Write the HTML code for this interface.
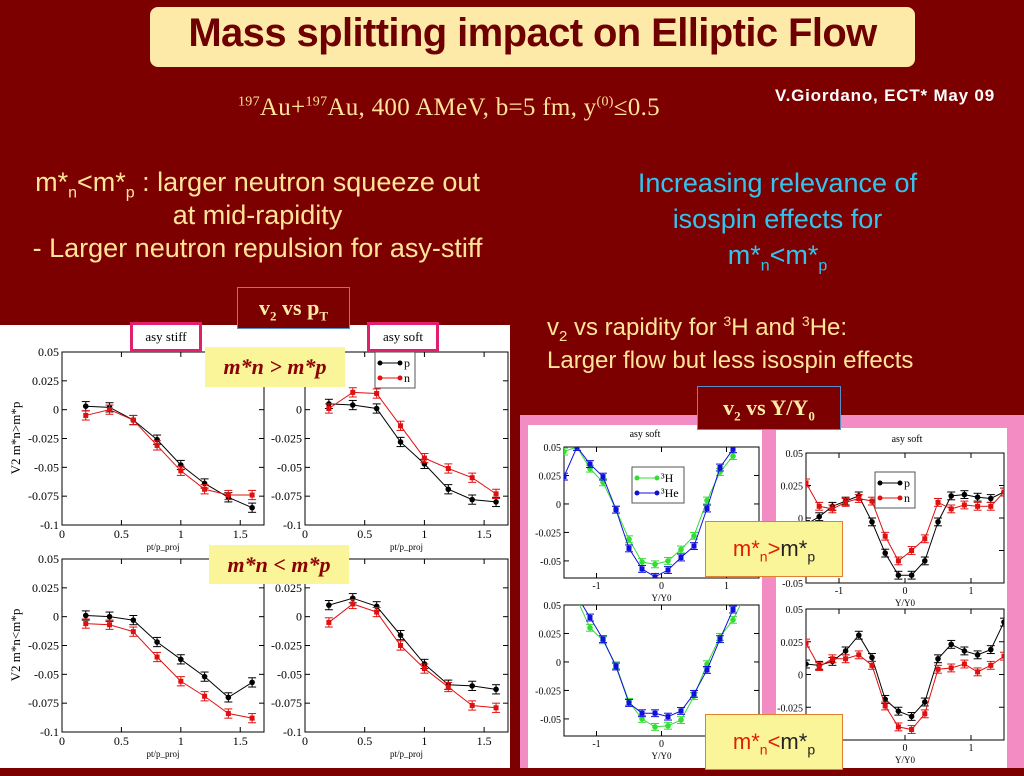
<!DOCTYPE html>
<html><head><meta charset="utf-8"><style>
html,body{margin:0;padding:0}
body{width:1024px;height:768px;background:#7d0000;position:relative;overflow:hidden;font-family:"Liberation Sans",sans-serif}
.abs{position:absolute}
.ylw{color:#ffe49a}
</style></head><body>
<div class="abs" style="left:150px;top:7px;width:765px;height:60px;background:#fde9a8;border-radius:8px;"></div>
<div class="abs" style="left:150px;top:11px;width:765px;text-align:center;font-weight:bold;font-size:40px;color:#6e0000;letter-spacing:-0.6px;">Mass splitting impact on Elliptic Flow</div>
<div class="abs" style="left:775px;top:86px;color:#fff;font-weight:bold;font-size:17px;letter-spacing:0.8px;">V.Giordano, ECT* May 09</div>
<div class="abs ylw" style="left:238px;top:94px;font-family:'Liberation Serif',serif;font-size:25px;letter-spacing:0.3px;"><sup style="font-size:14px">197</sup>Au+<sup style="font-size:14px">197</sup>Au, 400 AMeV, b=5 fm, y<sup style="font-size:14px">(0)</sup>≤0.5</div>
<div class="abs ylw" style="left:0px;top:166px;width:515px;text-align:center;font-size:27px;line-height:33px;">m*<sub style="font-size:16px;line-height:0">n</sub>&lt;m*<sub style="font-size:16px;line-height:0">p</sub> : larger neutron squeeze out<br>at mid-rapidity<br>- Larger neutron repulsion for asy-stiff</div>
<div class="abs" style="left:580px;top:165px;width:395px;text-align:center;font-size:27px;line-height:36px;color:#33c4ee;">Increasing relevance of<br>isospin effects for<br>m*<sub style="font-size:16px;line-height:0">n</sub>&lt;m*<sub style="font-size:16px;line-height:0">p</sub></div>
<div class="abs ylw" style="left:547px;top:311px;font-size:24px;line-height:33px;">v<sub style="font-size:15px;line-height:0">2</sub> vs rapidity for <sup style="font-size:14px;line-height:0">3</sup>H and <sup style="font-size:14px;line-height:0">3</sup>He:<br>Larger flow but less isospin effects</div>
<svg class="abs" style="left:0;top:0" width="1024" height="768" font-family="Liberation Serif, serif">
<rect x="0" y="325" width="510" height="443" fill="#fff"/>
<rect x="520" y="415" width="504" height="353" fill="#f48cc4"/>
<rect x="528" y="425" width="234" height="343" fill="#fff"/>
<rect x="776" y="428" width="231" height="340" fill="#fff"/>
<g id="plots"></g>
</svg>
<div class="abs" style="left:237px;top:287px;width:111px;height:40px;background:#7d0000;border:1px solid #5a8ec8;color:#fde9a8;font-family:'Liberation Serif',serif;font-weight:bold;font-size:22px;text-align:center;line-height:40px;">v<sub style="font-size:13px">2</sub> vs p<sub style="font-size:13px">T</sub></div>
<div class="abs" style="left:697px;top:386px;width:142px;height:42px;background:#7d0000;border:1px solid #5a8ec8;color:#fde9a8;font-family:'Liberation Serif',serif;font-weight:bold;font-size:22px;text-align:center;line-height:42px;">v<sub style="font-size:13px">2</sub> vs Y/Y<sub style="font-size:13px">0</sub></div>
<div class="abs" style="left:130px;top:322px;width:66px;height:24px;border:3px solid #e0206a;background:#fff;font-family:'Liberation Serif',serif;font-size:13px;text-align:center;line-height:24px;">asy stiff</div>
<div class="abs" style="left:367px;top:322px;width:66px;height:24px;border:3px solid #e0206a;background:#fff;font-family:'Liberation Serif',serif;font-size:13px;text-align:center;line-height:24px;">asy soft</div>
<div class="abs" style="left:205px;top:347px;width:140px;height:40px;background:#fbf59a;color:#8b0000;font-family:'Liberation Serif',serif;font-style:italic;font-weight:bold;font-size:22px;text-align:center;line-height:40px;">m*n &gt; m*p</div>
<div class="abs" style="left:209px;top:545px;width:140px;height:39px;background:#fbf59a;color:#8b0000;font-family:'Liberation Serif',serif;font-style:italic;font-weight:bold;font-size:22px;text-align:center;line-height:39px;">m*n &lt; m*p</div>
<div class="abs" style="left:705px;top:521px;width:136px;height:54px;background:#fbf59a;border:1px solid #e08030;font-size:22px;text-align:center;line-height:54px;color:#222;"><span style="color:#e02000">m*<sub style="font-size:14px">n</sub>&gt;</span>m*<sub style="font-size:14px">p</sub></div>
<div class="abs" style="left:705px;top:714px;width:136px;height:54px;background:#fbf59a;border:1px solid #e08030;font-size:22px;text-align:center;line-height:54px;color:#222;"><span style="color:#e02000">m*<sub style="font-size:14px">n</sub>&lt;</span>m*<sub style="font-size:14px">p</sub></div>
<script>
const ptX=[0.2,0.4,0.6,0.8,1.0,1.2,1.4,1.6];
const tlP=[0.003,0.002,-0.009,-0.026,-0.048,-0.064,-0.076,-0.085];
const tlN=[-0.005,0,-0.009,-0.031,-0.053,-0.069,-0.074,-0.074];
const trP=[0.005,0.004,0.001,-0.028,-0.047,-0.069,-0.078,-0.080];
const trN=[0.001,0.015,0.014,-0.014,-0.042,-0.051,-0.059,-0.073];
const blP=[0.001,0,-0.003,-0.022,-0.037,-0.052,-0.070,-0.057];
const blN=[-0.006,-0.007,-0.013,-0.035,-0.056,-0.069,-0.084,-0.088];
const brP=[0.010,0.016,0.009,-0.016,-0.041,-0.059,-0.060,-0.063];
const brN=[-0.005,0.011,0.004,-0.025,-0.045,-0.061,-0.077,-0.079];
const ptYTicks=["0.05","0.025","0","-0.025","-0.05","-0.075","-0.1"];
const ptXTicks=["0","0.5","1","1.5"];
const yX=[-1.5,-1.3,-1.1,-0.9,-0.7,-0.5,-0.3,-0.1,0.1,0.3,0.5,0.7,0.9,1.1];
const hTop=[0.046,0.050,0.031,0.019,-0.005,-0.031,-0.051,-0.053,-0.050,-0.040,-0.028,0.003,0.028,0.042];
const heTop=[0.024,0.050,0.035,0.024,-0.005,-0.039,-0.057,-0.064,-0.058,-0.047,-0.037,-0.004,0.032,0.048];
const yX2=[-1.3,-1.1,-0.9,-0.7,-0.5,-0.3,-0.1,0.1,0.3,0.5,0.7,0.9,1.1,1.3];
const hBot=[0.055,0.030,0.019,-0.003,-0.035,-0.050,-0.057,-0.056,-0.051,-0.030,-0.002,0.022,0.037,0.060];
const heBot=[0.058,0.039,0.020,-0.004,-0.036,-0.045,-0.045,-0.048,-0.043,-0.028,-0.007,0.020,0.046,0.065];
const yX3=[-1.5,-1.3,-1.1,-0.9,-0.7,-0.5,-0.3,-0.1,0.1,0.3,0.5,0.7,0.9,1.1,1.3,1.5];
const rtP=[-0.005,0.001,0.009,0.013,0.017,-0.003,-0.027,-0.044,-0.044,-0.033,-0.003,0.017,0.018,0.016,0.015,0.020];
const rtN=[0.027,0.009,0.007,0.012,0.015,0.013,-0.014,-0.033,-0.025,-0.016,0.012,0.007,0.010,0.009,0.009,0.020];
const rbP=[0.008,0.007,0.010,0.018,0.030,0.013,-0.019,-0.028,-0.032,-0.021,0.012,0.023,0.018,0.015,0.019,0.040];
const rbN=[0.024,0.006,0.012,0.012,0.015,0.007,-0.024,-0.040,-0.042,-0.030,0.004,0.005,0.008,0.002,0.007,0.014];
const rYTicksA=["0.05","0.025","0","-0.025","-0.05"];
const rXTicks=["-1","0","1"];

const NS="http://www.w3.org/2000/svg";
const root=document.getElementById('plots');
let cid=0;
function mk(tag,at,parent){const e=document.createElementNS(NS,tag);for(const k in at)e.setAttribute(k,at[k]);(parent||root).appendChild(e);return e;}
function panel(o){
  const g=mk('g',{});
  
  
  const sx=v=>o.x0+(v-o.xmin)/(o.xmax-o.xmin)*(o.x1-o.x0);
  const sy=v=>o.y1-(v-o.ymin)/(o.ymax-o.ymin)*(o.y1-o.y0);
  const id='c'+(cid++);
  const cp=mk('clipPath',{id:id},g);mk('rect',{x:o.x0,y:o.y0,width:o.x1-o.x0,height:o.y1-o.y0},cp);
  mk('rect',{x:o.x0,y:o.y0,width:o.x1-o.x0,height:o.y1-o.y0,fill:'none',stroke:'#000','stroke-width':1},g);
  o.yt.forEach(t=>{const v=parseFloat(t),y=sy(v);
    mk('line',{x1:o.x0,x2:o.x0+5,y1:y,y2:y,stroke:'#000'},g);mk('line',{x1:o.x1,x2:o.x1-5,y1:y,y2:y,stroke:'#000'},g);
    const tx=mk('text',{x:o.x0-3,y:y+4,'text-anchor':'end','font-size':o.fs},g);tx.textContent=t;
    
    });
  o.xt.forEach(t=>{const v=parseFloat(t),x=sx(v);
    mk('line',{x1:x,x2:x,y1:o.y1,y2:o.y1-5,stroke:'#000'},g);mk('line',{x1:x,x2:x,y1:o.y0,y2:o.y0+5,stroke:'#000'},g);
    const tx=mk('text',{x:x,y:o.y1+o.fs+1,'text-anchor':'middle','font-size':o.fs},g);tx.textContent=t;
    
    });
  if(o.xl){const tx=mk('text',{x:(o.x0+o.x1)/2,y:o.y1+o.fs+13,'text-anchor':'middle','font-size':9},g);tx.textContent=o.xl;
    
    }
  const cg=mk('g',{'clip-path':'url(#'+id+')'},g);
  o.series.forEach(s=>{
    const pts=s.ys.map((v,i)=>sx(s.xs[i])+','+sy(v)).join(' ');
    const pl=mk('polyline',{points:pts,fill:'none',stroke:s.c,'stroke-width':1},cg);
    
    
    s.ys.forEach((v,i)=>{const x=sx(s.xs[i]),y1=sy(v+o.err),y2=sy(v-o.err);
      mk('line',{x1:x,x2:x,y1:y1,y2:y2,stroke:s.c},cg);
      mk('line',{x1:x-4,x2:x+4,y1:y1,y2:y1,stroke:s.c},cg);
      mk('line',{x1:x-4,x2:x+4,y1:y2,y2:y2,stroke:s.c},cg);
      const m=s.sq?mk('rect',{x:x-2.5,y:sy(v)-2.5,width:5,height:5,fill:s.c},cg):mk('circle',{cx:x,cy:sy(v),r:2.8,fill:s.c},cg);
      
      });
  });
}
const L={xmin:0,xmax:1.7,ymin:-0.1,ymax:0.05,yt:ptYTicks,xt:ptXTicks,fs:12,err:0.004,xl:'pt/p_proj'};
const S=(p,n)=>[{xs:ptX,ys:p,c:'#000',n:'p'},{xs:ptX,ys:n,c:'#e01010',n:'n',sq:1}];
panel(Object.assign({},L,{name:'panel-stiff-gt',x0:62,x1:264,y0:352,y1:525,series:S(tlP,tlN)}));
panel(Object.assign({},L,{name:'panel-soft-gt',x0:305,x1:508,y0:352,y1:525,series:S(trP,trN)}));
panel(Object.assign({},L,{name:'panel-stiff-lt',x0:62,x1:264,y0:559,y1:732,series:S(blP,blN)}));
panel(Object.assign({},L,{name:'panel-soft-lt',x0:305,x1:508,y0:559,y1:732,series:S(brP,brN)}));
const R={xmin:-1.5,xmax:1.5,ymin:-0.065,ymax:0.05,yt:rYTicksA,xt:rXTicks,fs:10,err:0.003,xl:'Y/Y0'};
panel(Object.assign({},R,{name:'panel-3h-gt',x0:564,x1:759,y0:447,y1:578,series:[{xs:yX,ys:hTop,c:'#33dd33',n:'3h'},{xs:yX,ys:heTop,c:'#1010dd',n:'3he',sq:1}]}));
panel(Object.assign({},R,{name:'panel-3h-lt',x0:564,x1:759,y0:605,y1:736,series:[{xs:yX2,ys:hBot,c:'#33dd33',n:'3h'},{xs:yX2,ys:heBot,c:'#1010dd',n:'3he',sq:1}]}));
const R2={xmin:-1.5,xmax:1.5,ymin:-0.05,ymax:0.05,yt:rYTicksA,xt:rXTicks,fs:10,err:0.003,xl:'Y/Y0'};
panel(Object.assign({},R2,{name:'panel-pn-gt',x0:806,x1:1004,y0:453,y1:583,series:S(rtP,rtN).map((s,i)=>Object.assign(s,{xs:yX3}))}));
panel(Object.assign({},R2,{name:'panel-pn-lt',x0:806,x1:1004,y0:609,y1:740,series:S(rbP,rbN).map((s,i)=>Object.assign(s,{xs:yX3}))}));
function legend(x,y,w,items,name){
  const g=mk('g',{});
  
  
  mk('rect',{x:x,y:y,width:w,height:items.length*15+6,fill:'#fff',stroke:'#555'},g);
  items.forEach((it,i)=>{const yy=y+11+i*15;
    mk('line',{x1:x+5,x2:x+25,y1:yy,y2:yy,stroke:it.c},g);
    mk('circle',{cx:x+5,cy:yy,r:2.5,fill:it.c},g);mk('circle',{cx:x+25,cy:yy,r:2.5,fill:it.c},g);
    const t=mk('text',{x:x+29,y:yy+4,'font-size':12},g);t.textContent=it.t;});
}
legend(375,352,40,[{c:'#000',t:'p'},{c:'#e01010',t:'n'}],'legend-pt');
legend(632,467,52,[{c:'#33dd33',t:'³H'},{c:'#1010dd',t:'³He'}],'legend-3h');
legend(875,472,40,[{c:'#000',t:'p'},{c:'#e01010',t:'n'}],'legend-pn');
[[645,437],[907,442]].forEach(p=>{const t=mk('text',{x:p[0],y:p[1],'text-anchor':'middle','font-size':10});t.textContent='asy soft';
  
  });
[[20,438,'V2 m*n>m*p'],[20,645,'V2 m*n<m*p']].forEach(p=>{const t=mk('text',{x:p[0],y:p[1],'text-anchor':'middle','font-size':13,transform:'rotate(-90 '+p[0]+' '+p[1]+')'});t.textContent=p[2];
  
  });
</script>
</body></html>
